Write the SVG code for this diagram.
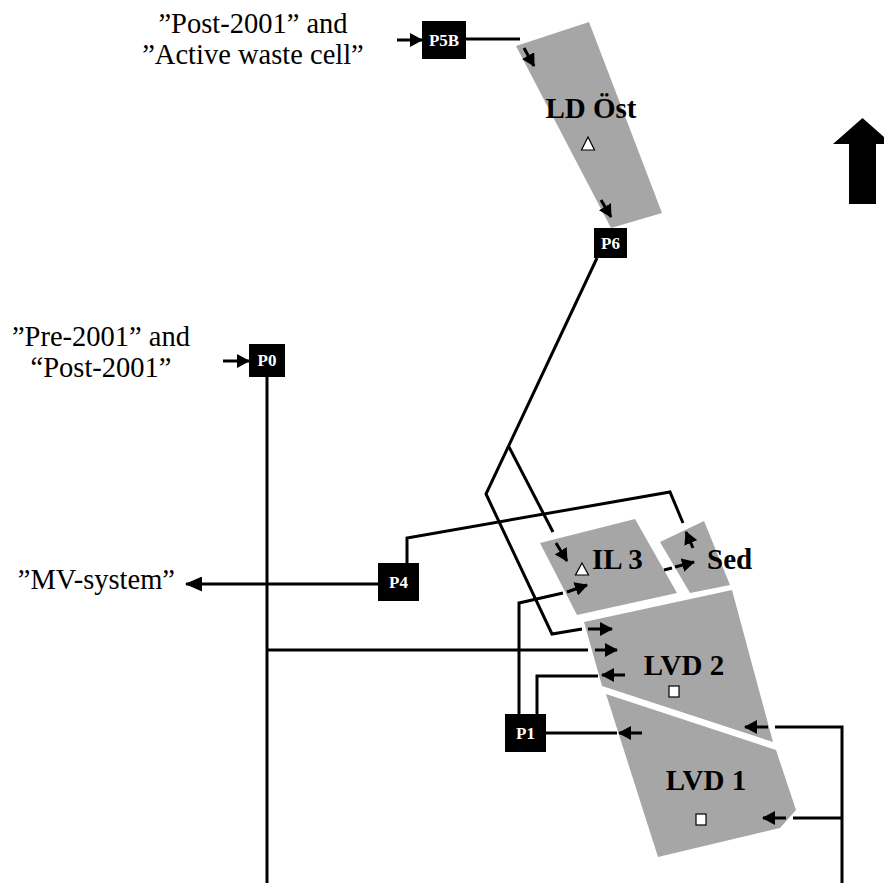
<svg xmlns="http://www.w3.org/2000/svg" width="884" height="883" viewBox="0 0 884 883">
<style>
.area{fill:#a6a6a6;stroke:none}
.ln{fill:none;stroke:#000;stroke-width:3}
.ar{fill:none;stroke:#000;stroke-width:3;marker-end:url(#ah)}
.box{fill:#000}
.bl{font-family:"Liberation Serif","Times New Roman",serif;font-weight:bold;font-size:17px;fill:#fff;text-anchor:middle}
.lab{font-family:"Liberation Serif","Times New Roman",serif;font-weight:bold;font-size:29px;fill:#000}
.mid{text-anchor:middle}
.txt{font-family:"Liberation Serif","Times New Roman",serif;font-size:28.5px;fill:#000}
.mk{fill:#fff;stroke:#000;stroke-width:1.2}
</style>
<defs>
<marker id="ah" markerUnits="userSpaceOnUse" markerWidth="13" markerHeight="14" refX="12" refY="7" orient="auto"><path d="M0,0 L13,7 L0,14 z" fill="#000"/></marker>
<marker id="ahL" markerUnits="userSpaceOnUse" markerWidth="17" markerHeight="15" refX="16" refY="7.5" orient="auto"><path d="M0,0 L17,7.5 L0,15 z" fill="#000"/></marker>
</defs>
<rect width="884" height="883" fill="#fff"/>

<g id="LD_Ost">
<polygon class="area" points="516,46 589,22 662,213 611,228"/>
<text class="lab mid" x="591" y="118">LD Öst</text>
<polygon class="mk" points="588,137 594.5,150 581.5,150"/>
</g>
<g id="IL3">
<polygon class="area" points="540,543 635,519 677,593 577,615"/>
<polygon class="mk" points="582,563 588.5,575 575.5,575"/>
<text class="lab" x="592" y="569">IL 3</text>
</g>
<g id="Sed">
<polygon class="area" points="660,542 704,521 730,585 690,593"/>
<text class="lab" x="707" y="569">Sed</text>
</g>
<g id="LVD2">
<polygon class="area" points="584,622 732,590 773,742 602,686"/>
<text class="lab mid" x="684" y="675">LVD 2</text>
<rect class="mk" x="669" y="686" width="10" height="11"/>
</g>
<g id="LVD1">
<polygon class="area" points="606,694 776,750 796,810 780,828 658,857"/>
<text class="lab mid" x="706" y="790">LVD 1</text>
<rect class="mk" x="696" y="814" width="10" height="11"/>
</g>

<g id="connectors">
<line class="ar" x1="397" y1="40" x2="422" y2="40"/>
<line class="ln" x1="466" y1="39" x2="520" y2="39"/>
<line class="ar" x1="524" y1="48" x2="534" y2="66"/>
<line class="ar" x1="601" y1="200" x2="611" y2="217"/>
<polyline class="ln" points="597,258 486,494 552,634 582,629"/>
<line class="ar" x1="588" y1="629" x2="612" y2="629"/>
<line class="ln" x1="509" y1="447" x2="553" y2="532"/>
<line class="ar" x1="556" y1="543" x2="567" y2="561"/>
<line class="ar" x1="223" y1="361" x2="249" y2="361"/>
<line class="ln" x1="267" y1="377" x2="267" y2="883"/>
<line class="ln" x1="267" y1="650" x2="588" y2="650"/>
<line class="ar" x1="595" y1="650" x2="617" y2="650"/>
<line class="ln" x1="378" y1="584" x2="200" y2="584"/>
<line stroke="#000" stroke-width="3" x1="200" y1="584" x2="186" y2="584" marker-end="url(#ahL)"/>
<polyline class="ln" points="407,563 407,538 670,492 683,523"/>
<line class="ar" x1="693" y1="548" x2="686" y2="532"/>
<line class="ln" x1="664" y1="570" x2="672" y2="568"/>
<line class="ar" x1="675" y1="567" x2="694" y2="562"/>
<polyline class="ln" points="519,714 519,603 563,593"/>
<line class="ar" x1="567" y1="592" x2="587" y2="585"/>
<polyline class="ln" points="537,714 537,676 598,676"/>
<line class="ar" x1="625" y1="675" x2="602" y2="675"/>
<line class="ln" x1="546" y1="733" x2="617" y2="733"/>
<line class="ar" x1="642" y1="733" x2="619" y2="733"/>
<polyline class="ln" points="775,727 842,727 842,883"/>
<line class="ln" x1="793" y1="818" x2="842" y2="818"/>
<line class="ar" x1="768" y1="727" x2="745" y2="727"/>
<line class="ar" x1="786" y1="818" x2="763" y2="818"/>
</g>

<g id="P5B"><rect class="box" x="422" y="21" width="44" height="38"/><text class="bl" x="444" y="46">P5B</text></g>
<g id="P6"><rect class="box" x="594" y="228" width="33" height="30"/><text class="bl" x="610.5" y="249">P6</text></g>
<g id="P0"><rect class="box" x="249" y="344" width="36" height="33"/><text class="bl" x="267" y="366">P0</text></g>
<g id="P4"><rect class="box" x="378" y="563" width="41" height="38"/><text class="bl" x="398.5" y="588">P4</text></g>
<g id="P1"><rect class="box" x="505" y="714" width="41" height="38"/><text class="bl" x="525.5" y="739">P1</text></g>

<g id="labels">
<text class="txt mid" x="253" y="33">”Post-2001” and</text>
<text class="txt mid" x="253" y="64">”Active waste cell”</text>
<text class="txt mid" x="101" y="346">”Pre-2001” and</text>
<text class="txt mid" x="101" y="377">“Post-2001”</text>
<text class="txt" x="175" y="589" style="text-anchor:end">”MV-system”</text>
</g>

<g id="north">
<polygon points="862.5,118 892,144 876,144 876,204 849,204 849,144 833,144" fill="#000"/>
</g>
</svg>
